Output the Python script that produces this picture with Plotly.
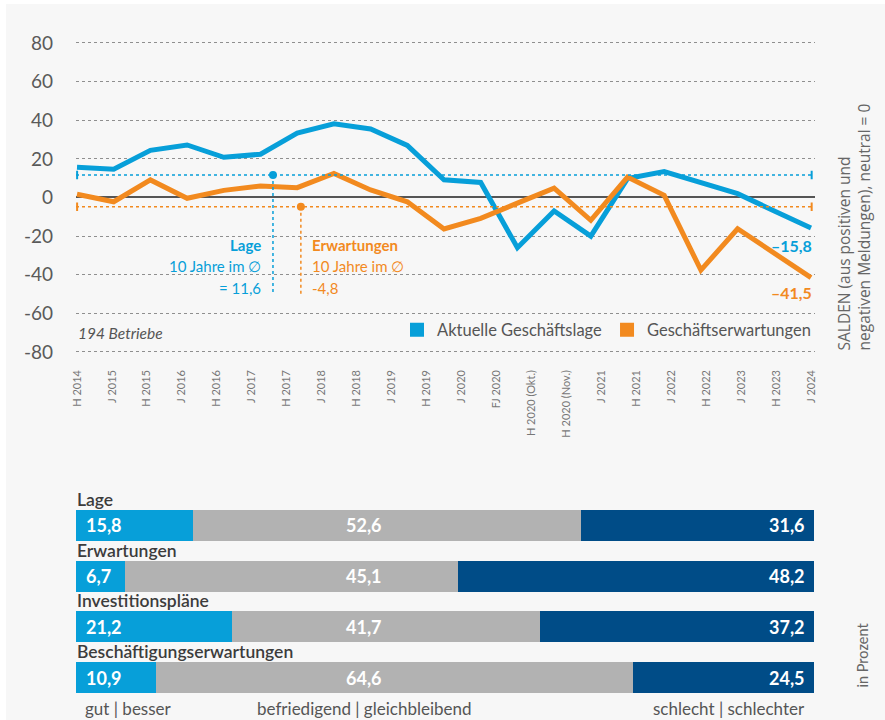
import plotly.graph_objects as go

# ---------------- data ----------------
periods = ["H 2014", "J 2015", "H 2015", "J 2016", "H 2016", "J 2017", "H 2017",
           "J 2018", "H 2018", "J 2019", "H 2019", "J 2020", "FJ 2020",
           "H 2020 (Okt.)", "H 2020 (Nov.)", "J 2021", "H 2021", "J 2022",
           "H 2022", "J 2023", "H 2023", "J 2024"]

# line values (21 survey points as drawn in the original)
lage = [15.6, 14.6, 24.4, 27.2, 20.8, 22.4, 33.3, 38.2, 35.5, 27.0, 9.2,
        7.8, -26.0, -7.0, -20.0, 9.8, 13.4, 7.4, 2.0, -7.0, -15.8]
erwartungen = [1.7, -2.2, 9.1, -0.4, 3.7, 6.0, 5.1, 12.5, 3.9, -2.2, -16.3,
               -10.8, -2.9, 4.8, -11.8, 10.6, 1.1, -37.6, -16.2, -28.9, -41.5]

avg_lage = 11.6
avg_erw = -4.8

y_ticks = [80, 60, 40, 20, 0, -20, -40, -60, -80]
y_ticktext = ["80", "60", "40", "20", "0", "-20", "-40", "-60", "-80"]

bar_rows = ["Lage", "Erwartungen", "Investitionspläne", "Beschäftigungserwartungen"]
gut = [15.8, 6.7, 21.2, 10.9]
mittel = [52.6, 45.1, 41.7, 64.6]
schlecht = [31.6, 48.2, 37.2, 24.5]

# ---------------- style ----------------
BLUE = "#079fd9"
ORANGE = "#f28a1f"
DARK = "#004c87"
GREY_BAR = "#b2b2b2"
TXT = "#555555"
FONT = "Lato"

W, H = 885, 720

def px_x(p):
    return p / W

def px_y(p):
    return (H - p) / H

def de(v):
    return f"{v:.1f}".replace(".", ",")

# plot area geometry (pixels)
left_px, right_px = 76, 815
first_px, last_px = 77, 811
n_lab = len(periods)
n_pts = len(lage)
s_lab = (last_px - first_px) / (n_lab - 1)
s_pts = (last_px - first_px) / (n_pts - 1)
lab_range = [(left_px - first_px) / s_lab, (n_lab - 1) + (right_px - last_px) / s_lab]
pts_range = [(left_px - first_px) / s_pts, (n_pts - 1) + (right_px - last_px) / s_pts]

y_top_px, y_bot_px = 43, 352
y_scale = (y_bot_px - y_top_px) / 160.0
y_rng = [-82, 82]
y_dom = [px_y(y_bot_px + 2 * y_scale), px_y(y_top_px - 2 * y_scale)]

fig = go.Figure()

# main lines
fig.add_trace(go.Scatter(x=list(range(n_pts)), y=lage, xaxis="x2", yaxis="y",
                         mode="lines", line=dict(color=BLUE, width=5),
                         showlegend=False, hoverinfo="skip"))
fig.add_trace(go.Scatter(x=list(range(n_pts)), y=erwartungen, xaxis="x2", yaxis="y",
                         mode="lines", line=dict(color=ORANGE, width=5),
                         showlegend=False, hoverinfo="skip"))

# vertical guides from average lines to the explanatory texts
guide_lage_x = 5.34
guide_erw_x = 6.10
guide_bottom = -50
for gx, gy, col in [(guide_lage_x, avg_lage, BLUE), (guide_erw_x, avg_erw, ORANGE)]:
    fig.add_trace(go.Scatter(x=[gx, gx], y=[gy, guide_bottom], xaxis="x2", yaxis="y",
                             mode="lines", line=dict(color=col, width=1.5, dash="dot"),
                             showlegend=False, hoverinfo="skip"))
    fig.add_trace(go.Scatter(x=[gx], y=[gy], xaxis="x2", yaxis="y",
                             mode="markers", marker=dict(color=col, size=8),
                             showlegend=False, hoverinfo="skip"))

# legend entries
fig.add_trace(go.Scatter(x=[None], y=[None], mode="markers", xaxis="x", yaxis="y",
                         marker=dict(symbol="square", size=14, color=BLUE),
                         name="Aktuelle Geschäftslage"))
fig.add_trace(go.Scatter(x=[None], y=[None], mode="markers", xaxis="x", yaxis="y",
                         marker=dict(symbol="square", size=14, color=ORANGE),
                         name="Geschäftserwartungen"))

# stacked bars
for vals, col in [(gut, BLUE), (mittel, GREY_BAR), (schlecht, DARK)]:
    fig.add_trace(go.Bar(y=bar_rows, x=vals, orientation="h", xaxis="x3", yaxis="y3",
                         marker=dict(color=col, line=dict(width=0)),
                         showlegend=False, hoverinfo="skip"))

shapes = []
# panel background
shapes.append(dict(type="rect", xref="paper", yref="paper", x0=px_x(6), x1=1,
                   y0=0, y1=px_y(4), fillcolor="#f7f7f7", line=dict(width=0),
                   layer="below"))
# average lines with end ticks
for avg, col in [(avg_lage, BLUE), (avg_erw, ORANGE)]:
    shapes.append(dict(type="line", xref="x domain", yref="y", x0=0, x1=0.997,
                       y0=avg, y1=avg, line=dict(color=col, width=1.5, dash="dot")))
    for xd in (0.0015, 0.9955):
        shapes.append(dict(type="line", xref="x domain", yref="y", x0=xd, x1=xd,
                           y0=avg - 2.2, y1=avg + 2.2, line=dict(color=col, width=2)))

ann = []
# explanatory texts
ann_rows = [px_y(245), px_y(266), px_y(288)]
lage_txt = ["<b>Lage</b>", "10 Jahre im ∅", "= " + de(avg_lage)]
erw_txt = ["<b>Erwartungen</b>", "10 Jahre im ∅", de(avg_erw)]
for t, yy in zip(lage_txt, ann_rows):
    ann.append(dict(x=guide_lage_x, xref="x2", y=yy, yref="paper", text=t,
                    showarrow=False, xanchor="right", yanchor="middle", xshift=-10,
                    font=dict(family=FONT, size=15, color=BLUE)))
for t, yy in zip(erw_txt, ann_rows):
    ann.append(dict(x=guide_erw_x, xref="x2", y=yy, yref="paper", text=t,
                    showarrow=False, xanchor="left", yanchor="middle", xshift=9,
                    font=dict(family=FONT, size=15, color=ORANGE)))

# end values
ann.append(dict(x=n_pts - 1, xref="x2", y=lage[-1], yref="y",
                text="<b>–" + de(abs(lage[-1])) + "</b>", showarrow=False,
                xanchor="right", yanchor="middle", xshift=3, yshift=-17,
                font=dict(family=FONT, size=16, color=BLUE)))
ann.append(dict(x=n_pts - 1, xref="x2", y=erwartungen[-1], yref="y",
                text="<b>–" + de(abs(erwartungen[-1])) + "</b>", showarrow=False,
                xanchor="right", yanchor="middle", xshift=3, yshift=-15,
                font=dict(family=FONT, size=16, color=ORANGE)))

# sample size
ann.append(dict(x=px_x(76), xref="paper", y=px_y(333), yref="paper",
                text="<i>194 Betriebe</i>", showarrow=False, xanchor="left",
                yanchor="middle", font=dict(family=FONT, size=15.5, color=TXT)))

# right axis title
ann.append(dict(x=px_x(853), xref="paper", y=px_y(353), yref="paper",
                text="SALDEN (aus positiven und<br>negativen Meldungen), neutral = 0",
                textangle=-90, showarrow=False, xanchor="center", yanchor="bottom",
                align="left", font=dict(family="Open Sans", size=15.5, color="#666666")))
ann.append(dict(x=px_x(862), xref="paper", y=px_y(690), yref="paper",
                text="in Prozent", textangle=-90, showarrow=False,
                xanchor="center", yanchor="bottom",
                font=dict(family=FONT, size=14.5, color="#666666")))

# bar labels
mid_pos = 39
for i, row in enumerate(bar_rows):
    ann.append(dict(x=0, xref="x3", y=row, yref="y3", text=row, showarrow=False,
                    xanchor="left", yanchor="middle", yshift=26, xshift=-1,
                    font=dict(family=FONT, size=17.5, color="#3c3c3c", weight=600)))
    ann.append(dict(x=0, xref="x3", y=row, yref="y3", text="<b>" + de(gut[i]) + "</b>",
                    showarrow=False, xanchor="left", yanchor="middle", xshift=8,
                    font=dict(family=FONT, size=18, color="white")))
    ann.append(dict(x=mid_pos, xref="x3", y=row, yref="y3", text="<b>" + de(mittel[i]) + "</b>",
                    showarrow=False, xanchor="center", yanchor="middle",
                    font=dict(family=FONT, size=18, color="white")))
    ann.append(dict(x=100, xref="x3", y=row, yref="y3", text="<b>" + de(schlecht[i]) + "</b>",
                    showarrow=False, xanchor="right", yanchor="middle", xshift=-7,
                    font=dict(family=FONT, size=18, color="white")))

bottom_y = px_y(708)
ann.append(dict(x=0, xref="x3", y=bottom_y, yref="paper", text="gut | besser",
                showarrow=False, xanchor="left", yanchor="middle", xshift=7,
                font=dict(family=FONT, size=17, color=TXT)))
ann.append(dict(x=mid_pos, xref="x3", y=bottom_y, yref="paper",
                text="befriedigend | gleichbleibend", showarrow=False,
                xanchor="center", yanchor="middle",
                font=dict(family=FONT, size=17, color=TXT)))
ann.append(dict(x=100, xref="x3", y=bottom_y, yref="paper", text="schlecht | schlechter",
                showarrow=False, xanchor="right", yanchor="middle", xshift=-7,
                font=dict(family=FONT, size=17, color=TXT)))

bar_dom = [px_y(703), px_y(500)]

fig.update_layout(
    width=W, height=H,
    margin=dict(l=0, r=0, t=0, b=0, pad=0, autoexpand=False),
    paper_bgcolor="#ffffff",
    plot_bgcolor="rgba(0,0,0,0)",
    font=dict(family=FONT, color=TXT),
    barmode="stack",
    bargap=0.39,
    showlegend=True,
    legend=dict(orientation="h", x=px_x(816), xanchor="right", y=px_y(330),
                yanchor="middle", bgcolor="rgba(0,0,0,0)",
                font=dict(family=FONT, size=16.5, color=TXT),
                itemwidth=30, traceorder="normal"),
    xaxis=dict(domain=[px_x(left_px), px_x(right_px)], range=lab_range,
               tickmode="array", tickvals=list(range(n_lab)), ticktext=periods,
               tickangle=-90, showgrid=False, zeroline=False, showline=False,
               ticks="", ticklabelstandoff=11, automargin=False,
               tickfont=dict(family=FONT, size=11, color="#777777"),
               anchor="y", fixedrange=True),
    xaxis2=dict(overlaying="x", range=pts_range, visible=False, anchor="y",
                automargin=False, domain=[px_x(left_px), px_x(right_px)]),
    yaxis=dict(domain=y_dom, range=y_rng, tickmode="array", tickvals=y_ticks,
               ticktext=y_ticktext, showgrid=True, griddash="dot",
               gridcolor="#8f8f8f", gridwidth=1, zeroline=True,
               zerolinecolor="#555555", zerolinewidth=1.5, showline=False,
               ticks="", ticklabelstandoff=22, automargin=False,
               tickfont=dict(family=FONT, size=19, color="#5a5a5a"),
               anchor="x"),
    xaxis3=dict(domain=[px_x(76), px_x(814)], range=[0, 100], visible=False,
                anchor="y3", automargin=False),
    yaxis3=dict(domain=bar_dom, type="category", categoryarray=bar_rows,
                range=[len(bar_rows) - 0.5, -0.5], visible=False, anchor="x3",
                automargin=False),
    shapes=shapes,
    annotations=ann,
)

fig.write_html("out.html",
               config={"displayModeBar": False},
               post_script="document.body.style.margin='0';"
                           "document.body.style.overflow='hidden';")
